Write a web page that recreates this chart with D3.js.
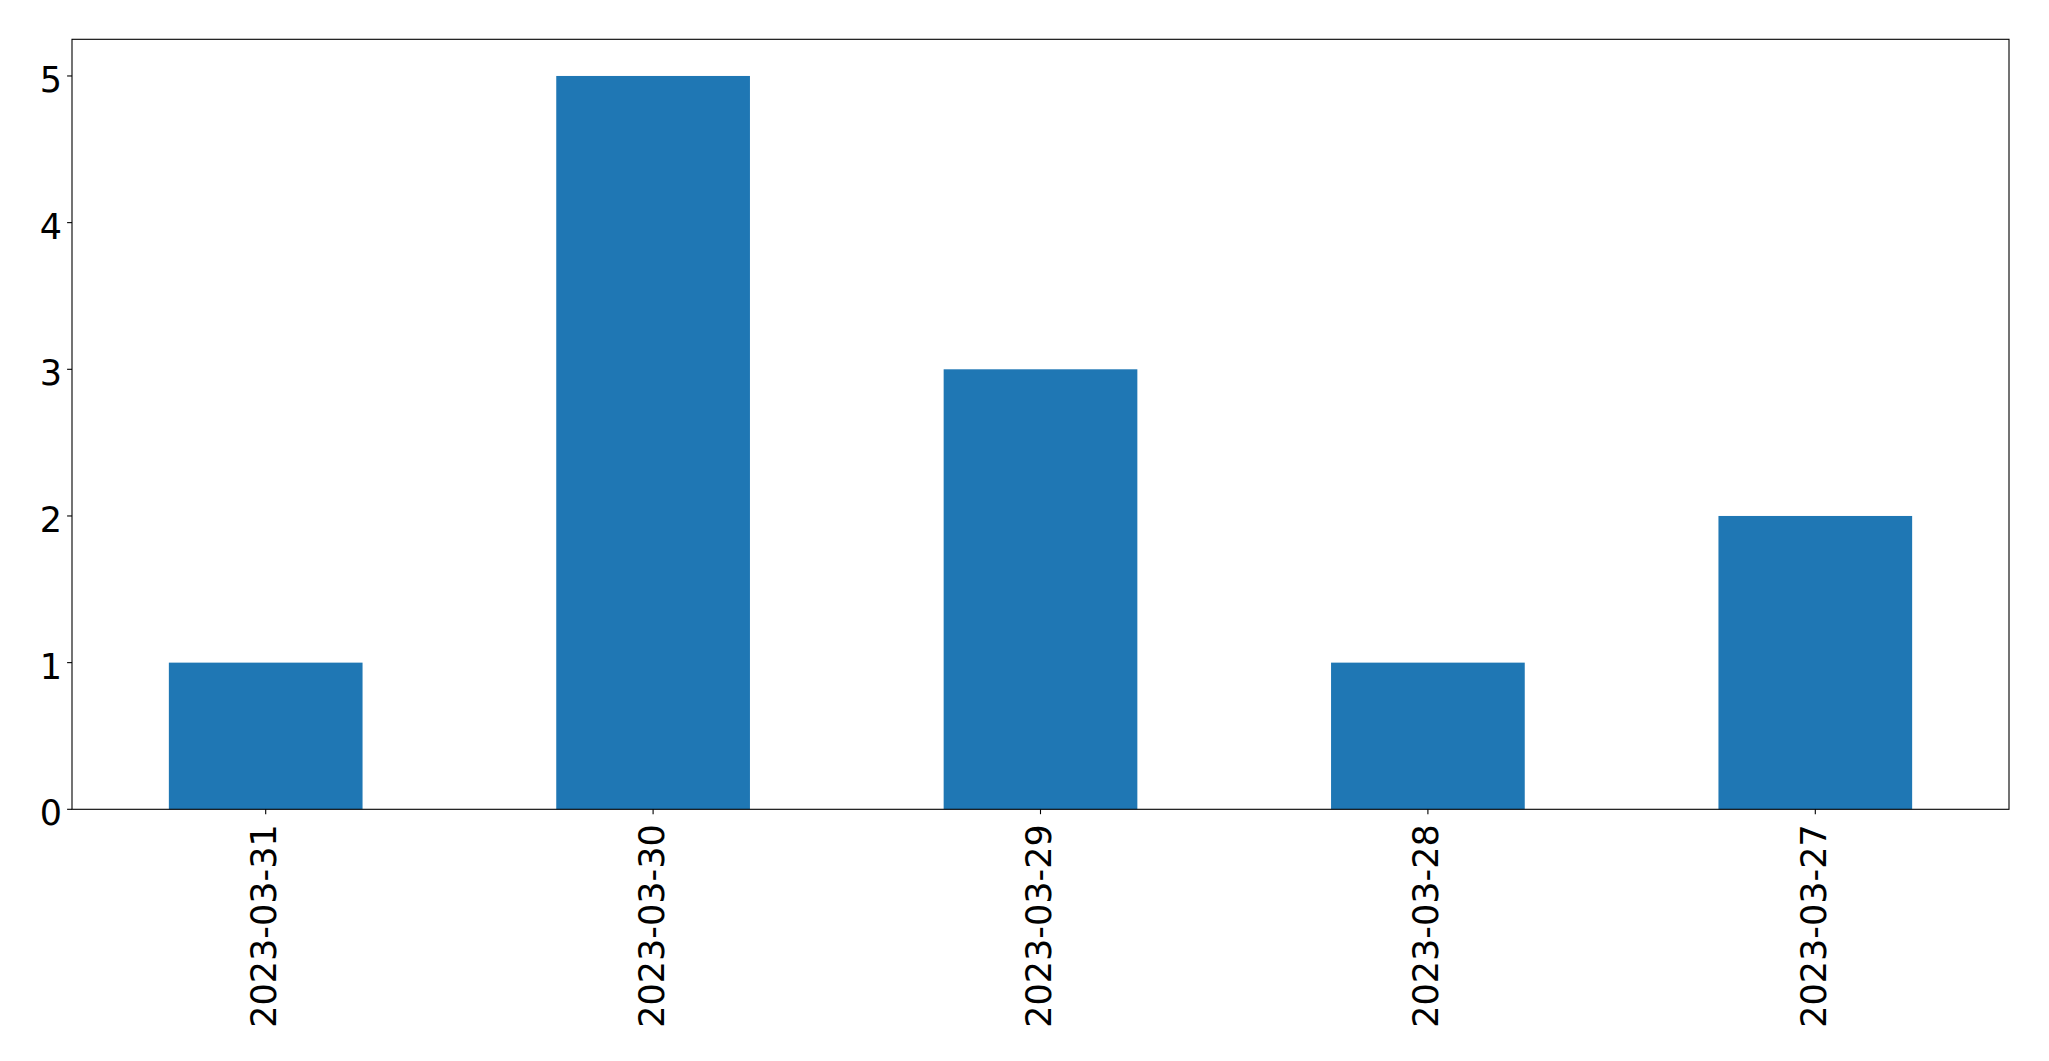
<!DOCTYPE html>
<html>
<head>
<meta charset="utf-8">
<script src="https://cdn.jsdelivr.net/npm/d3@7"></script>
<style>
  html, body { margin: 0; padding: 0; background: #fff; }
  svg { display: block; }
  text { font-family: "DejaVu Sans", sans-serif; fill: #000; }
</style>
</head>
<body>
<script>
const categories = ["2023-03-31", "2023-03-30", "2023-03-29", "2023-03-28", "2023-03-27"];
const values = [1, 5, 3, 1, 2];
const yTicks = [0, 1, 2, 3, 4, 5];

const W = 2049, H = 1061;
const mLeft = 72, mRight = 2009, mTop = 39.3, mBottom = 809.3;
const fontSize = 35;
const tickLen = 4.9;

const svg = d3.select("body").append("svg").attr("width", W).attr("height", H);

// matplotlib-style categorical axis: positions 0..n-1, limits -0.5..n-0.5, bar width 0.5
const xLin = d3.scaleLinear().domain([-0.5, categories.length - 0.5]).range([mLeft, mRight]);
const y = d3.scaleLinear().domain([0, 5.25]).range([mBottom, mTop]);
const barW = xLin(0.5) - xLin(0);

svg.append("g").selectAll("rect").data(values).join("rect")
  .attr("x", (d, i) => xLin(i - 0.25))
  .attr("y", d => y(d))
  .attr("width", barW)
  .attr("height", d => y(0) - y(d))
  .attr("fill", "#1f77b4");

// frame
svg.append("rect")
  .attr("x", mLeft).attr("y", mTop)
  .attr("width", mRight - mLeft).attr("height", mBottom - mTop)
  .attr("fill", "none").attr("stroke", "#000").attr("stroke-width", 1.1);

// y axis ticks and labels
const yg = svg.append("g");
yg.selectAll("line").data(yTicks).join("line")
  .attr("x1", mLeft - tickLen).attr("x2", mLeft)
  .attr("y1", d => y(d)).attr("y2", d => y(d))
  .attr("stroke", "#000").attr("stroke-width", 1.1);
yg.selectAll("text").data(yTicks).join("text")
  .attr("x", mLeft - 10)
  .attr("y", d => y(d) + 16)
  .attr("text-anchor", "end")
  .attr("font-size", fontSize)
  .text(d => d);

// x axis ticks and labels
const xg = svg.append("g");
xg.selectAll("line").data(categories).join("line")
  .attr("x1", (d, i) => xLin(i)).attr("x2", (d, i) => xLin(i))
  .attr("y1", mBottom).attr("y2", mBottom + tickLen)
  .attr("stroke", "#000").attr("stroke-width", 1.1);
xg.selectAll("text").data(categories).join("text")
  .attr("transform", (d, i) => `translate(${xLin(i) + 10.5},${mBottom + 15}) rotate(-90)`)
  .attr("text-anchor", "end")
  .attr("font-size", fontSize)
  .text(d => d);
</script>
</body>
</html>
